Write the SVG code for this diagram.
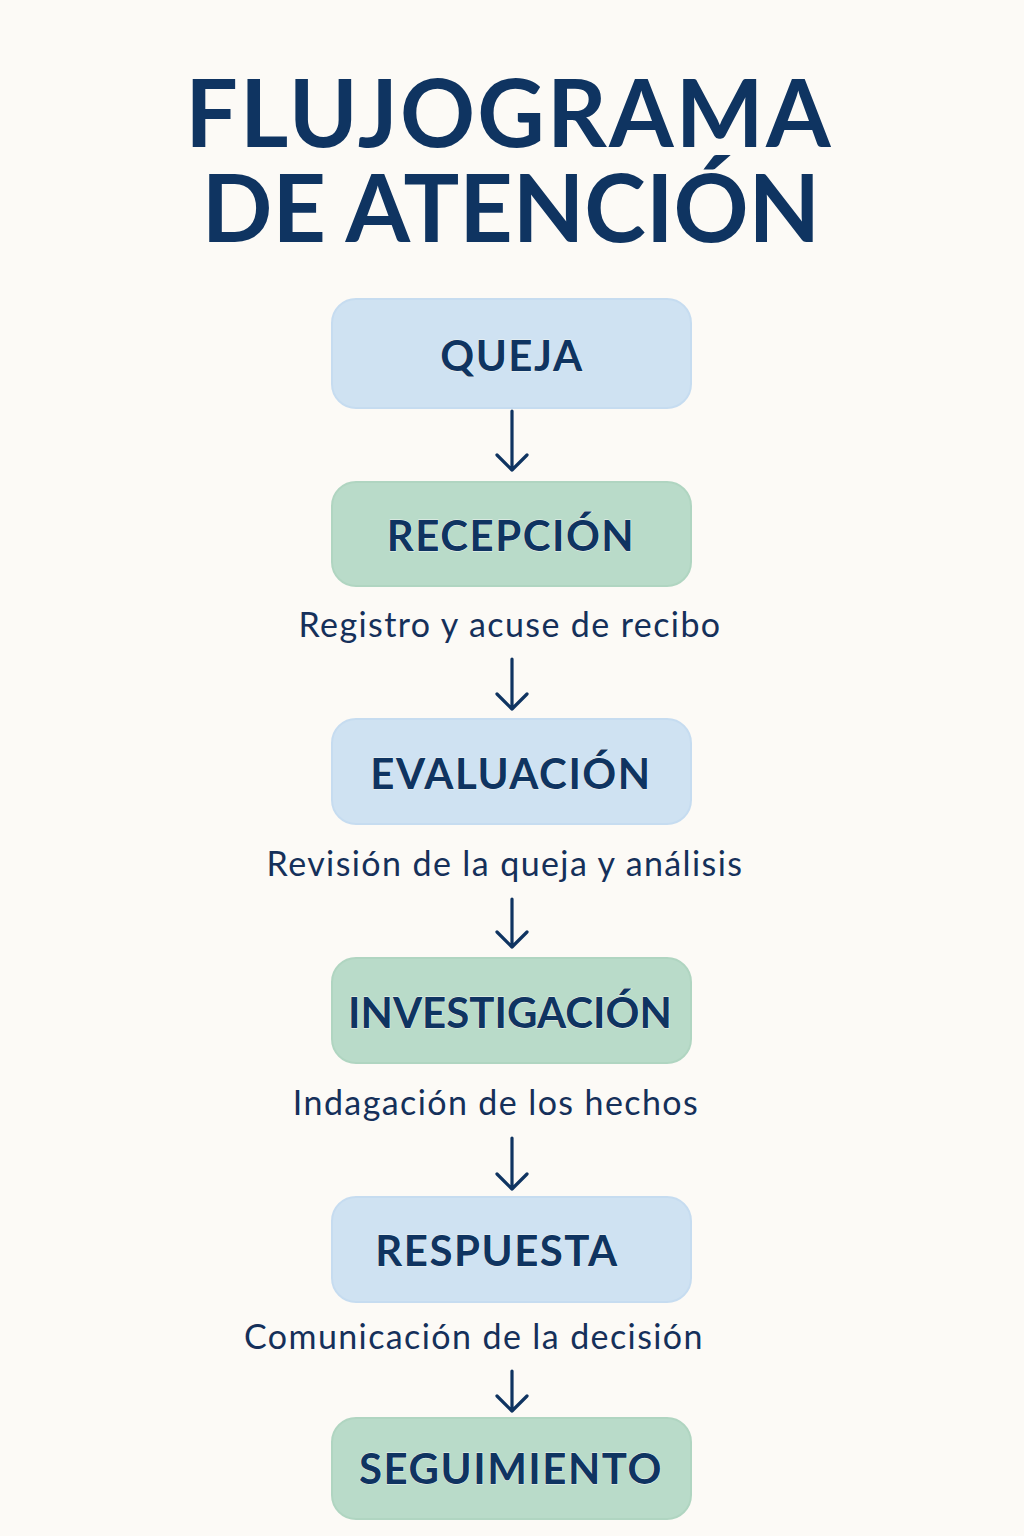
<svg xmlns="http://www.w3.org/2000/svg" width="1024" height="1536" viewBox="0 0 1024 1536">
<style>
.title{font-family:Lato,"Open Sans","Liberation Sans",sans-serif;font-weight:700;font-size:93px;fill:#0f3461;text-anchor:middle}
.blue{fill:#cfe2f2;stroke:#c6dcf0;stroke-width:2}
.green{fill:#b9dbc9;stroke:#b0d5c1;stroke-width:2}
.nt{font-family:Lato,"Open Sans","Liberation Sans",sans-serif;font-weight:700;font-size:42px;letter-spacing:1.5px;fill:#0f3461;text-anchor:middle;stroke:#eef4f0;stroke-width:0.8;paint-order:stroke}
.lbl{font-family:Lato,"Open Sans","Liberation Sans",sans-serif;font-size:34px;letter-spacing:1.4px;fill:#15305a;text-anchor:middle}
.arr{fill:none;stroke:#0f3461;stroke-width:3.2;stroke-linecap:round;stroke-linejoin:round}
</style>
<rect width="1024" height="1536" fill="#fcfaf6"/>
<g id="title">
<text class="title"><tspan x="509" y="147" style="letter-spacing:2.2px">FLUJOGRAMA</tspan><tspan x="511" y="242" style="letter-spacing:0">DE ATENCIÓN</tspan></text>
</g>
<g id="connectors">
<path class="arr" d="M512 411V470M497 455L512 470L527 455"/>
<path class="arr" d="M512 659V709M497 694L512 709L527 694"/>
<path class="arr" d="M512 899V947M497 932L512 947L527 932"/>
<path class="arr" d="M512 1138V1189M497 1174L512 1189L527 1174"/>
<path class="arr" d="M512 1371V1411M497 1396L512 1411L527 1396"/>
</g>
<g id="queja">
<rect class="blue" x="332" y="299" width="359" height="109" rx="24"/>
<text class="nt" x="512" y="371">QUEJA</text>
</g>
<g id="recepcion">
<rect class="green" x="332" y="482" width="359" height="104" rx="24"/>
<text class="nt" x="511" y="551">RECEPCIÓN</text>
</g>
<text class="lbl" x="510" y="637">Registro y acuse de recibo</text>
<g id="evaluacion">
<rect class="blue" x="332" y="719" width="359" height="105" rx="24"/>
<text class="nt" x="511" y="789">EVALUACIÓN</text>
</g>
<text class="lbl" x="505" y="876">Revisión de la queja y análisis</text>
<g id="investigacion">
<rect class="green" x="332" y="958" width="359" height="105" rx="24"/>
<text class="nt" x="510" y="1028" style="letter-spacing:0">INVESTIGACIÓN</text>
</g>
<text class="lbl" x="496" y="1115">Indagación de los hechos</text>
<g id="respuesta">
<rect class="blue" x="332" y="1197" width="359" height="105" rx="24"/>
<text class="nt" x="497" y="1266">RESPUESTA</text>
</g>
<text class="lbl" x="474" y="1349">Comunicación de la decisión</text>
<g id="seguimiento">
<rect class="green" x="332" y="1418" width="359" height="101" rx="24"/>
<text class="nt" x="511" y="1484">SEGUIMIENTO</text>
</g>
</svg>
